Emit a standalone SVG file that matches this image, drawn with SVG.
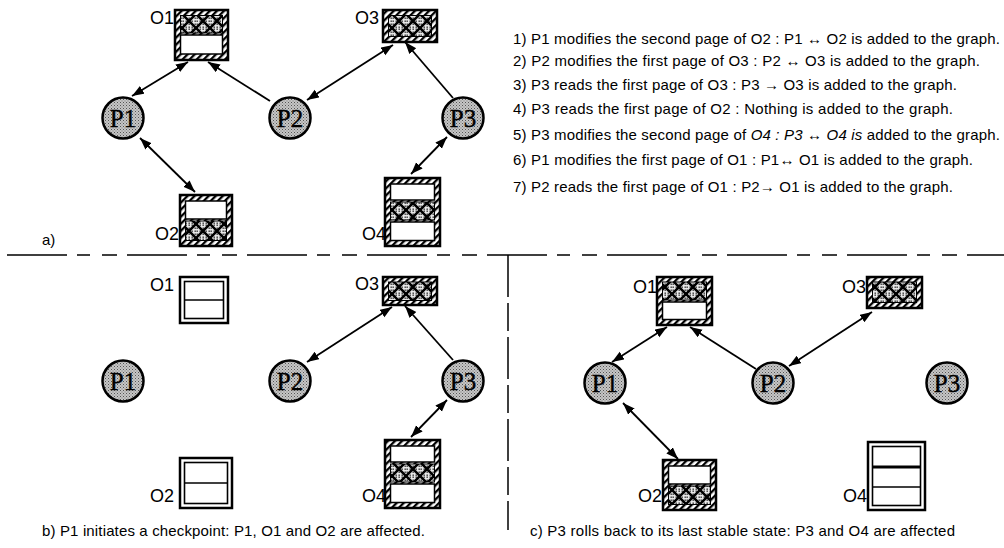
<svg xmlns="http://www.w3.org/2000/svg" width="1004" height="548" viewBox="0 0 1004 548">
<style>
.lbl{font-family:"Liberation Sans",Arial,sans-serif;font-size:18px;fill:#000}
.txt{font-family:"Liberation Sans",Arial,sans-serif;font-size:15px;fill:#000}
.pt{font-family:"Liberation Serif","Times New Roman",serif;font-size:25px;fill:#000;text-anchor:middle;stroke:#000;stroke-width:0.4}
.proc{fill:url(#dots);stroke:#000;stroke-width:2.5}
.hob{fill:url(#hatch);stroke:#000;stroke-width:2.5}
.dob{fill:#fff;stroke:#000;stroke-width:2.5}
.pw{fill:#fff;stroke:#000;stroke-width:1.5}
.pc{fill:url(#check);stroke:#000;stroke-width:1}
.inner{fill:none;stroke:#000;stroke-width:1.6}
.div{stroke:#000;stroke-width:1.6}
.con{stroke:#000;stroke-width:1.8;fill:none}
.bi{marker-start:url(#arr);marker-end:url(#arr)}
.uni{marker-end:url(#arr)}
.sep{stroke:#000;stroke-width:1.5;fill:none}
</style>
<defs>
<pattern id="dots" width="3" height="3" patternUnits="userSpaceOnUse">
<rect width="3" height="3" fill="#c6c6c6"/>
<rect x="0" y="0" width="1" height="1" fill="#555"/>
<rect x="1.5" y="1.5" width="1" height="1" fill="#777"/>
</pattern>
<pattern id="cdots" width="3" height="3" patternUnits="userSpaceOnUse">
<rect width="3" height="3" fill="#e8e8e8"/>
<rect x="0.5" y="0.5" width="1.4" height="1.4" fill="#333"/>
</pattern>
<pattern id="check" width="14" height="14" patternUnits="userSpaceOnUse">
<rect width="14" height="14" fill="url(#cdots)"/>
<path d="M0,0 L14,14 M14,0 L0,14" stroke="#000" stroke-width="2.6"/>
<path d="M7,-7 L21,7 M-7,7 L7,21 M7,21 L21,7 M-7,7 L7,-7" stroke="#000" stroke-width="2.6"/>
</pattern>
<pattern id="hatch" width="5" height="5" patternUnits="userSpaceOnUse" patternTransform="rotate(45)">
<rect width="5" height="5" fill="#fff"/>
<rect width="2.3" height="5" fill="#000"/>
</pattern>
<marker id="arr" markerUnits="userSpaceOnUse" markerWidth="13" markerHeight="10" refX="12" refY="4.5" orient="auto-start-reverse">
<path d="M0,0 L12,4.5 L0,9 z" fill="#000"/>
</marker>
</defs>
<rect width="1004" height="548" fill="#fff"/>

<g id="separators">
<line class="sep" x1="7" y1="255" x2="1004" y2="255" stroke-dasharray="60 10 13 12 15 10"/>
<line class="sep" x1="508" y1="255" x2="508" y2="530" stroke-dasharray="42 6 28 6"/>
</g>

<g id="connectors">
<line class="con bi" x1="132" y1="96" x2="188" y2="62"/>
<line class="con uni" x1="270" y1="101" x2="208" y2="62"/>
<line class="con bi" x1="307" y1="100" x2="393" y2="45"/>
<line class="con uni" x1="453" y1="98" x2="405" y2="42"/>
<line class="con bi" x1="140" y1="138" x2="195" y2="192"/>
<line class="con bi" x1="447" y1="137" x2="411" y2="174"/>

<line class="con bi" x1="307" y1="362" x2="392" y2="307"/>
<line class="con uni" x1="453" y1="360" x2="405" y2="306"/>
<line class="con bi" x1="447" y1="400" x2="411" y2="437"/>

<line class="con bi" x1="612" y1="362" x2="667" y2="327"/>
<line class="con uni" x1="756" y1="369" x2="690" y2="327"/>
<line class="con bi" x1="789" y1="366" x2="872" y2="312"/>
<line class="con bi" x1="623" y1="403" x2="678" y2="459"/>
</g>

<!-- Section a -->
<g id="a-O1">
<rect class="hob" x="175" y="10" width="53" height="50"/>
<rect class="pc" x="180.5" y="15.5" width="42" height="17.5"/>
<rect class="pw" x="180.5" y="35" width="42" height="19"/>
<text class="lbl" x="150" y="24">O1</text>
</g>
<g id="a-O3">
<rect class="hob" x="383" y="10" width="54" height="32"/>
<rect class="pc" x="388.5" y="15.5" width="43" height="21"/>
<text class="lbl" x="355" y="24">O3</text>
</g>
<g id="a-O2">
<rect class="hob" x="180" y="195" width="52" height="51"/>
<rect class="pw" x="185.5" y="201" width="41" height="18"/>
<rect class="pc" x="185.5" y="221" width="41" height="19.5"/>
<text class="lbl" x="155" y="240">O2</text>
</g>
<g id="a-O4">
<rect class="hob" x="385" y="178" width="55" height="68"/>
<rect class="pw" x="390.5" y="184" width="44" height="16"/>
<rect class="pc" x="390.5" y="202" width="44" height="18"/>
<rect class="pw" x="390.5" y="222" width="44" height="18.5"/>
<text class="lbl" x="362" y="240">O4</text>
</g>
<g id="a-P1"><circle class="proc" cx="123" cy="118" r="20.5"/><text class="pt" x="123" y="126.5">P1</text></g>
<g id="a-P2"><circle class="proc" cx="290" cy="118" r="20.5"/><text class="pt" x="290" y="126.5">P2</text></g>
<g id="a-P3"><circle class="proc" cx="463" cy="118" r="20.5"/><text class="pt" x="463" y="126.5">P3</text></g>
<g id="a-label"><text class="txt" x="42" y="245">a)</text></g>

<g id="events">
<text class="txt" x="513" y="44" textLength="487" lengthAdjust="spacing">1) P1 modifies the second page of O2 : P1 ↔ O2 is added to the graph.</text>
<text class="txt" x="513" y="66" textLength="467" lengthAdjust="spacing">2) P2 modifies the first page of O3 : P2 ↔ O3 is added to the graph.</text>
<text class="txt" x="513" y="90" textLength="444" lengthAdjust="spacing">3) P3 reads the first page of O3 : P3 → O3 is added to the graph.</text>
<text class="txt" x="513" y="114" textLength="440" lengthAdjust="spacing">4) P3 reads the first page of O2 : Nothing is added to the graph.</text>
<text class="txt" x="513" y="140" textLength="487" lengthAdjust="spacing">5) P3 modifies the second page of <tspan font-style="italic">O4 : P3 ↔ O4 is</tspan> added to the graph.</text>
<text class="txt" x="513" y="165" textLength="460" lengthAdjust="spacing">6) P1 modifies the first page of O1 : P1↔ O1 is added to the graph.</text>
<text class="txt" x="513" y="192" textLength="440" lengthAdjust="spacing">7) P2 reads the first page of O1 : P2→ O1 is added to the graph.</text>
</g>

<!-- Section b -->
<g id="b-O1">
<rect class="dob" x="180" y="277" width="48" height="46"/>
<rect class="inner" x="184.5" y="281.5" width="39" height="37"/>
<line class="div" x1="184.5" y1="300" x2="223.5" y2="300"/>
<text class="lbl" x="150" y="291">O1</text>
</g>
<g id="b-O3">
<rect class="hob" x="383" y="277" width="54" height="28"/>
<rect class="pc" x="388.5" y="282" width="43" height="18.5"/>
<text class="lbl" x="355" y="290">O3</text>
</g>
<g id="b-O2">
<rect class="dob" x="180" y="458" width="52" height="50"/>
<rect class="inner" x="184.5" y="462.5" width="43" height="41"/>
<line class="div" x1="184.5" y1="483" x2="227.5" y2="483"/>
<text class="lbl" x="150" y="502">O2</text>
</g>
<g id="b-O4">
<rect class="hob" x="385" y="440" width="55" height="68"/>
<rect class="pw" x="390.5" y="446" width="44" height="16"/>
<rect class="pc" x="390.5" y="464" width="44" height="18"/>
<rect class="pw" x="390.5" y="484" width="44" height="18.5"/>
<text class="lbl" x="362" y="502">O4</text>
</g>
<g id="b-P1"><circle class="proc" cx="123" cy="381" r="20.5"/><text class="pt" x="123" y="389.5">P1</text></g>
<g id="b-P2"><circle class="proc" cx="290" cy="381" r="20.5"/><text class="pt" x="290" y="389.5">P2</text></g>
<g id="b-P3"><circle class="proc" cx="463" cy="381" r="20.5"/><text class="pt" x="463" y="389.5">P3</text></g>
<g id="b-caption"><text class="txt" x="42" y="536" textLength="383" lengthAdjust="spacing">b) P1 initiates a checkpoint: P1, O1 and O2 are affected.</text></g>

<!-- Section c -->
<g id="c-O1">
<rect class="hob" x="657" y="277" width="55" height="48"/>
<rect class="pc" x="662.5" y="282" width="44" height="18"/>
<rect class="pw" x="662.5" y="302" width="44" height="17.5"/>
<text class="lbl" x="633" y="293">O1</text>
</g>
<g id="c-O3">
<rect class="hob" x="867" y="277" width="55" height="31"/>
<rect class="pc" x="872.5" y="282" width="44" height="20.5"/>
<text class="lbl" x="842" y="293">O3</text>
</g>
<g id="c-O2">
<rect class="hob" x="663" y="460" width="53" height="50"/>
<rect class="pw" x="668.5" y="466" width="42" height="18"/>
<rect class="pc" x="668.5" y="486" width="42" height="18.5"/>
<text class="lbl" x="638" y="502">O2</text>
</g>
<g id="c-O4">
<rect class="dob" x="868" y="442" width="57" height="68"/>
<rect class="inner" x="872.5" y="446.5" width="48" height="59"/>
<line x1="872.5" y1="467" x2="920.5" y2="467" stroke="#000" stroke-width="3.2"/>
<line class="div" x1="872.5" y1="487" x2="920.5" y2="487"/>
<text class="lbl" x="843" y="502">O4</text>
</g>
<g id="c-P1"><circle class="proc" cx="605" cy="383" r="20.5"/><text class="pt" x="605" y="391.5">P1</text></g>
<g id="c-P2"><circle class="proc" cx="773" cy="383" r="20.5"/><text class="pt" x="773" y="391.5">P2</text></g>
<g id="c-P3"><circle class="proc" cx="947" cy="383" r="20.5"/><text class="pt" x="947" y="391.5">P3</text></g>
<g id="c-caption"><text class="txt" x="530" y="536" textLength="425" lengthAdjust="spacing">c) P3 rolls back to its last stable state: P3 and O4 are affected</text></g>
</svg>
